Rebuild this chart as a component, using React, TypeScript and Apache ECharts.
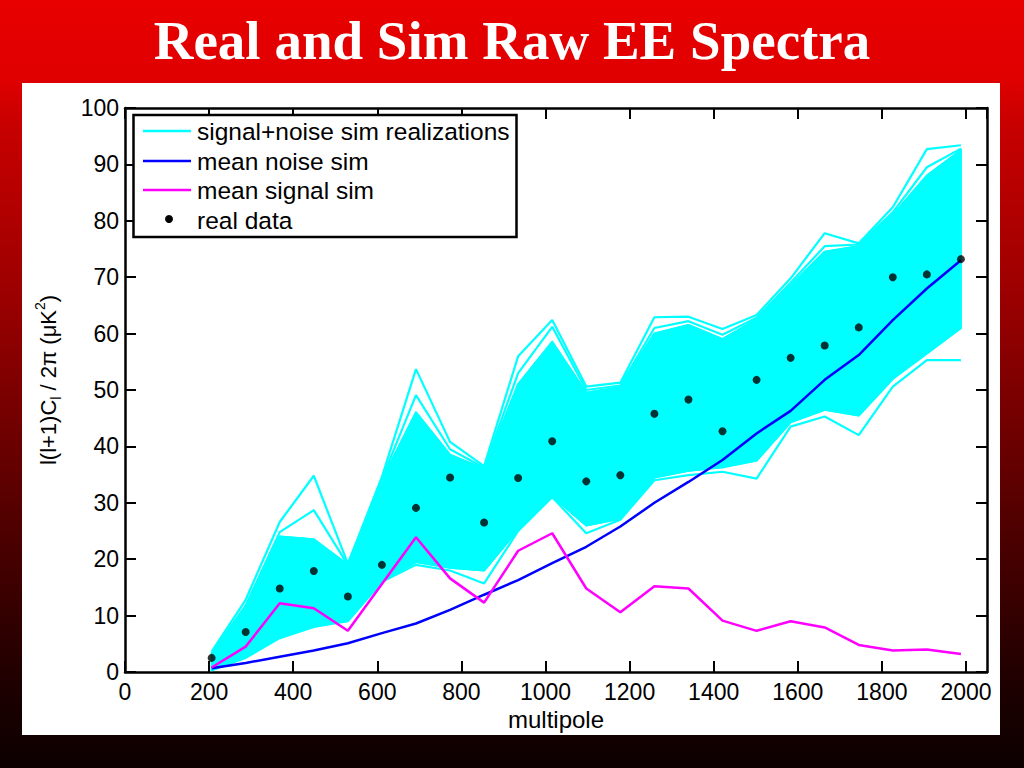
import React, { useEffect, useRef } from "react";
import * as echarts from "echarts";

// multipole bin centres
const ells = [206, 287, 368, 449, 530, 611, 692, 773, 854, 935, 1016, 1097, 1178, 1259, 1340, 1421, 1502, 1583, 1664, 1745, 1826, 1907, 1988];

// real data points
const realData = [2.5, 7.1, 14.8, 17.9, 13.4, 19.0, 29.1, 34.5, 26.5, 34.4, 40.9, 33.8, 34.9, 45.8, 48.3, 42.7, 51.8, 55.7, 57.9, 61.1, 70.0, 70.5, 73.2];

// mean noise sim
const meanNoise = [0.65, 1.6, 2.7, 3.8, 5.1, 6.9, 8.6, 11.0, 13.7, 16.3, 19.3, 22.2, 25.8, 30.0, 33.7, 37.6, 42.3, 46.3, 51.8, 56.2, 62.4, 68.0, 73.0];

// mean signal sim
const meanSignal = [0.8, 4.5, 12.2, 11.3, 7.3, 15.6, 23.9, 16.6, 12.3, 21.5, 24.6, 14.8, 10.6, 15.2, 14.8, 9.1, 7.3, 9.0, 7.9, 4.8, 3.8, 4.0, 3.2];

// signal+noise sim realizations: dense band edges and visible outlying realizations
const simUpper = [3.2, 11.5, 24.0, 23.5, 19.0, 34.0, 46.0, 38.5, 36.0, 51.0, 58.5, 49.5, 50.5, 60.0, 61.5, 59.0, 62.5, 68.5, 74.5, 75.5, 81.0, 88.0, 92.5];
const simLower = [0.3, 2.8, 6.3, 8.3, 9.3, 16.3, 19.5, 18.5, 18.0, 25.3, 31.2, 26.0, 27.2, 34.5, 35.7, 36.3, 37.5, 44.3, 46.5, 45.5, 52.0, 56.5, 61.0];
const simMax = [3.6, 12.8, 26.6, 34.8, 19.2, 34.6, 53.7, 40.8, 36.5, 56.0, 62.4, 50.6, 51.3, 62.9, 63.0, 60.8, 63.3, 69.8, 77.8, 76.0, 82.4, 92.7, 93.4];
const simAlt = [3.3, 11.8, 24.8, 28.7, 19.0, 34.2, 49.1, 39.5, 36.2, 53.0, 61.2, 50.0, 50.8, 61.0, 62.2, 59.8, 62.8, 69.0, 75.5, 75.8, 81.5, 89.5, 92.8];
const simMin = [0.3, 2.5, 6.0, 8.0, 9.0, 16.0, 19.0, 18.0, 15.7, 25.0, 31.0, 24.6, 27.0, 34.0, 34.9, 35.5, 34.3, 43.5, 45.3, 42.0, 50.6, 55.3, 55.3];

const legendLabels = ["signal+noise sim realizations", "mean noise sim", "mean signal sim", "real data"];

const FONT = '"Liberation Sans", Arial, Helvetica, sans-serif';
const CYAN = "#00ffff";
const BLUE = "#0000ff";
const MAGENTA = "#ff00ff";

const pts = (arr: number[]) => ells.map((l, i) => [l, arr[i]]);

function buildOption() {
  const axisCommon = {
    type: "value" as const,
    axisLine: { show: true, onZero: false, lineStyle: { color: "#000", width: 2.5 } },
    axisTick: { show: true, inside: true, length: 11, lineStyle: { color: "#000", width: 2 } },
    splitLine: { show: false },
  };
  const cyanLine = (arr: number[]) => ({
    type: "line",
    data: pts(arr),
    symbol: "none",
    lineStyle: { color: CYAN, width: 2.2 },
    itemStyle: { color: CYAN },
    z: 2,
    silent: true,
  });
  const legendY = [131, 161, 190, 220];
  return {
    animation: false,
    backgroundColor: {
      type: "linear",
      x: 0,
      y: 0,
      x2: 0,
      y2: 1,
      colorStops: [
        { offset: 0, color: "#e80000" },
        { offset: 0.1, color: "#e00000" },
        { offset: 0.16, color: "#c80000" },
        { offset: 0.4, color: "#980000" },
        { offset: 0.7, color: "#4c0000" },
        { offset: 0.9, color: "#1c0000" },
        { offset: 1, color: "#0c0000" },
      ],
    },
    grid: { left: 125, right: 37, top: 108, bottom: 96 },
    xAxis: [
      {
        ...axisCommon,
        position: "bottom",
        min: 0,
        max: 2050,
        interval: 200,
        axisLabel: {
          show: true,
          color: "#000",
          fontSize: 23,
          fontFamily: FONT,
          margin: 8,
          showMaxLabel: false,
          formatter: (v: number) => String(v),
        },
        name: "multipole",
        nameLocation: "middle",
        nameGap: 31,
        nameTextStyle: { color: "#000", fontSize: 24, fontFamily: FONT },
      },
      {
        ...axisCommon,
        position: "top",
        min: 0,
        max: 2050,
        interval: 200,
        axisLabel: { show: false },
      },
    ],
    yAxis: [
      {
        ...axisCommon,
        position: "left",
        min: 0,
        max: 100,
        interval: 10,
        axisLabel: { show: true, color: "#000", fontSize: 23, fontFamily: FONT, margin: 6 },
        name: "{a|l(l+1)C}{b|l}{a| / 2π (μK}{c|2}{a|)}",
        nameLocation: "middle",
        nameGap: 62,
        nameTextStyle: {
          color: "#000",
          fontFamily: FONT,
          fontSize: 22,
          padding: [0, 0, 0, 20],
          rich: {
            a: { fontSize: 22, fontFamily: FONT, color: "#000", lineHeight: 30 },
            b: { fontSize: 14, fontFamily: FONT, color: "#000", lineHeight: 14, verticalAlign: "bottom" },
            c: { fontSize: 14, fontFamily: FONT, color: "#000", lineHeight: 14, verticalAlign: "top" },
          },
        },
      },
      {
        ...axisCommon,
        position: "right",
        min: 0,
        max: 100,
        interval: 10,
        axisLabel: { show: false },
      },
    ],
    graphic: [
      {
        type: "rect",
        z: -10,
        silent: true,
        shape: { x: 22, y: 83, width: 978, height: 652 },
        style: { fill: "#ffffff" },
      },
      {
        type: "text",
        z: 10,
        x: 512,
        y: 40,
        style: {
          text: "Real and Sim Raw EE Spectra",
          fill: "#ffffff",
          font: 'bold 55px "Liberation Serif", "Times New Roman", serif',
          textAlign: "center",
          textVerticalAlign: "middle",
        },
      },
      {
        type: "group",
        z: 100,
        children: [
          {
            type: "rect",
            z: 100,
            shape: { x: 133.5, y: 115, width: 383, height: 122 },
            style: { fill: "#ffffff", stroke: "#000", lineWidth: 2.5 },
          },
          {
            type: "line",
            z: 101,
            shape: { x1: 143, y1: legendY[0], x2: 191, y2: legendY[0] },
            style: { stroke: CYAN, lineWidth: 2.5 },
          },
          {
            type: "line",
            z: 101,
            shape: { x1: 143, y1: legendY[1], x2: 191, y2: legendY[1] },
            style: { stroke: BLUE, lineWidth: 2.5 },
          },
          {
            type: "line",
            z: 101,
            shape: { x1: 143, y1: legendY[2], x2: 191, y2: legendY[2] },
            style: { stroke: MAGENTA, lineWidth: 2.5 },
          },
          {
            type: "circle",
            z: 101,
            shape: { cx: 169, cy: legendY[3] - 1, r: 4 },
            style: { fill: "#000" },
          },
          ...legendLabels.map((t, i) => ({
            type: "text",
            z: 101,
            x: 197,
            y: legendY[i],
            style: {
              text: t,
              fill: "#000",
              font: `24.5px ${FONT}`,
              textAlign: "left",
              textVerticalAlign: "middle",
            },
          })),
        ],
      },
    ],
    series: [
      {
        name: legendLabels[0],
        type: "custom",
        data: [0],
        silent: true,
        z: 1,
        renderItem: (_params: any, api: any) => {
          const top = ells.map((l, i) => api.coord([l, simUpper[i]]));
          const bottom = ells.map((l, i) => api.coord([l, simLower[i]])).reverse();
          return {
            type: "polygon",
            shape: { points: top.concat(bottom) },
            style: { fill: CYAN, stroke: CYAN, lineWidth: 2 },
          };
        },
      },
      cyanLine(simUpper),
      cyanLine(simLower),
      cyanLine(simAlt),
      cyanLine(simMax),
      cyanLine(simMin),
      {
        name: legendLabels[1],
        type: "line",
        data: pts(meanNoise),
        symbol: "none",
        lineStyle: { color: BLUE, width: 2.5 },
        itemStyle: { color: BLUE },
        z: 3,
      },
      {
        name: legendLabels[2],
        type: "line",
        data: pts(meanSignal),
        symbol: "none",
        lineStyle: { color: MAGENTA, width: 2.5 },
        itemStyle: { color: MAGENTA },
        z: 3,
      },
      {
        name: legendLabels[3],
        type: "scatter",
        data: pts(realData),
        symbol: "circle",
        symbolSize: 8,
        itemStyle: { color: "#000" },
        z: 4,
      },
    ],
  };
}

export default function App() {
  const ref = useRef<HTMLDivElement>(null);
  useEffect(() => {
    if (!ref.current) return;
    const chart = echarts.init(ref.current, null, { renderer: "svg" });
    chart.setOption(buildOption() as any);
    return () => chart.dispose();
  }, []);
  return (
    <div
      ref={ref}
      style={{ position: "fixed", left: 0, top: 0, width: 1024, height: 768 }}
    />
  );
}
